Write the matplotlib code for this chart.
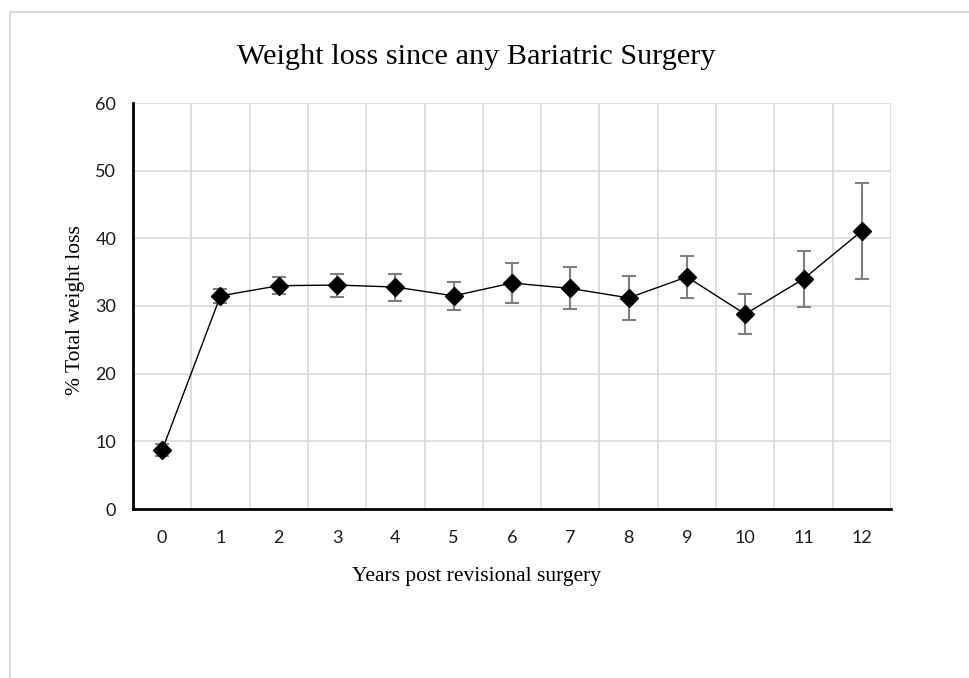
import matplotlib.pyplot as plt
from matplotlib.patches import Rectangle

# years after revision, mean % total weight loss and error
years = [0, 1, 2, 3, 4, 5, 6, 7, 8, 9, 10, 11, 12]
twl = [8.7, 31.5, 33.0, 33.1, 32.8, 31.5, 33.4, 32.6, 31.2, 34.3, 28.8, 34.0, 41.1]
err = [0.9, 1.0, 1.3, 1.7, 2.0, 2.1, 2.9, 3.1, 3.2, 3.1, 2.9, 4.1, 7.1]

fig = plt.figure(figsize=(9.70, 6.78), dpi=100)

# light chart-area border
fig.patches.append(Rectangle((10 / 970, -0.1), 1.1, 1 - 12 / 678 + 0.1,
                             transform=fig.transFigure, fill=False,
                             edgecolor='#d9d9d9', linewidth=1.5))

ax = fig.add_axes([133 / 970, 169 / 678, 758 / 970, 406 / 678])

ax.errorbar(years, twl, yerr=err, color='black', linewidth=1,
            marker='D', markersize=9, ecolor='#7f7f7f', elinewidth=1.5,
            capsize=5, capthick=1.5, zorder=3)

ax.set_xlim(-0.5, 12.5)
ax.set_ylim(0, 60)
ax.set_yticks(range(0, 61, 10))
ax.set_xticks(years)

# gridlines sit between the categories
for x in [y + 0.5 for y in years]:
    ax.axvline(x, color='#d9d9d9', linewidth=1.2, zorder=0)
for y in range(10, 61, 10):
    ax.axhline(y, color='#d9d9d9', linewidth=1.2, zorder=0)

for side in ['top', 'right']:
    ax.spines[side].set_visible(False)
ax.spines['left'].set_linewidth(2)
ax.spines['bottom'].set_linewidth(2)
ax.tick_params(length=0, labelsize=13)
ax.tick_params(axis='x', pad=15)
ax.tick_params(axis='y', pad=12)
for lbl in ax.get_xticklabels() + ax.get_yticklabels():
    lbl.set_family('Lato')
    lbl.set_color('#1a1a1a')

fig.text(477 / 970, 1 - 576 / 678, 'Years post revisional surgery',
         family='Liberation Serif', fontsize=15.5, ha='center', va='center')
fig.text(76 / 970, 1 - 310 / 678, '% Total weight loss', rotation=90,
         family='Liberation Serif', fontsize=15.5, ha='center', va='center')
fig.text(476 / 970, 1 - 57 / 678, 'Weight loss since any Bariatric Surgery',
         family='Liberation Serif', fontsize=21.8, ha='center', va='center')

fig.savefig('out.png', dpi=100)
